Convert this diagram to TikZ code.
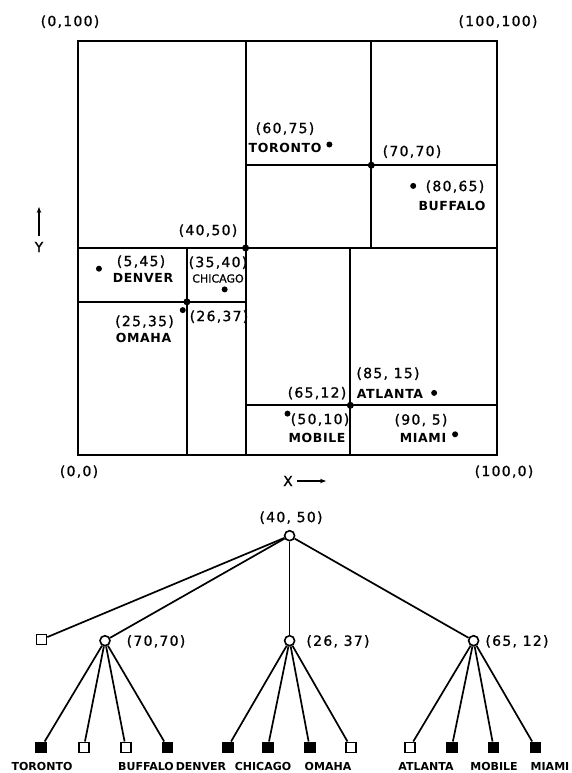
\documentclass[tikz,border=0pt]{standalone}
\usepackage{fontspec}
\usetikzlibrary{arrows.meta}
\newfontfamily\cfont[LetterSpace=9,FakeBold=1]{DejaVu Sans}
\newfontfamily\nfont[LetterSpace=5]{DejaVu Sans}
\newfontfamily\sfont[FakeBold=1]{DejaVu Sans}
\newfontfamily\lfont{DejaVu Sans}
\begin{document}
\begin{tikzpicture}[x=1pt,y=-1pt,
  txt/.style={inner sep=0pt, text depth=0pt},
  crd/.style={txt, font=\cfont\fontsize{14}{16}\selectfont, text height=10.2pt},
  nm/.style={txt, font=\nfont\bfseries\fontsize{12.5}{14}\selectfont, text height=9.1pt},
  sm/.style={txt, font=\sfont\fontsize{11}{13}\selectfont, text height=8pt},
  lf/.style={txt, font=\lfont\bfseries\fontsize{11}{13}\selectfont, text height=8pt},
  grid/.style={line width=2.2pt},
  dot/.style={circle, fill, inner sep=0pt, minimum size=6pt},
  idot/.style={circle, fill, inner sep=0pt, minimum size=7pt},
  inode/.style={circle, draw, line width=1.6pt, fill=white, inner sep=0pt, minimum size=10pt},
  osq/.style={rectangle, draw, line width=1.6pt, fill=white, inner sep=0pt, minimum size=10pt},
  fsq/.style={rectangle, draw, fill, line width=1.6pt, inner sep=0pt, minimum size=10pt},
  edge/.style={line width=1.7pt},
  axarrow/.style={line width=1.4pt, -{Stealth[length=6pt,width=4.5pt]}}]
\useasboundingbox (0,0) rectangle (571,773);

% ---------- partition map ----------
\begin{scope}[shift={(78,455)}, x=4.19pt, y=4.14pt]
  \draw[grid] (0,0) rectangle (100,100);
  \draw[grid] (40,0) -- (40,100);
  \draw[grid] (0,50) -- (100,50);
  \draw[grid] (70,50) -- (70,100);
  \draw[grid] (40,70) -- (100,70);
  \draw[grid] (26,0) -- (26,50);
  \draw[grid] (0,37) -- (40,37);
  \draw[grid] (65,0) -- (65,50);
  \draw[grid] (40,12) -- (100,12);
  \node[idot] (i4050) at (40,50) {};
  \node[idot] (i7070) at (70,70) {};
  \node[idot] (i2637) at (26,37) {};
  \node[idot] (i6512) at (65,12) {};
  \node[dot] (dtor) at (60,75) {};
  \node[dot] (dbuf) at (80,65) {};
  \node[dot] (dden) at (5,45) {};
  \node[dot] (dchi) at (35,40) {};
  \node[dot] (doma) at (25,35) {};
  \node[dot] (datl) at (85,15) {};
  \node[dot] (dmob) at (50,10) {};
  \node[dot] (dmia) at (90,5) {};
\end{scope}

% corner labels
\node[crd] (c0100) at (70,21) {(0,100)};
\node[crd] (c100100) at (498,21) {(100,100)};
\node[crd] (c00) at (79,471) {(0,0)};
\node[crd] (c1000) at (504,471) {(100,0)};

% axes
\node[crd] (xl) at (288,481) {X};
\coordinate (xa0) at (297,481);
\coordinate (xa1) at (326,481);
\draw[axarrow] (xa0) -- (xa1);
\node[crd] (yl) at (39,247) {Y};
\coordinate (ya0) at (39,236);
\coordinate (ya1) at (39,207);
\draw[axarrow] (ya0) -- (ya1);

% map labels
\node[crd] (l6075) at (285,128) {(60,75)};
\node[nm]  (ltor) at (285,148) {TORONTO};
\node[crd] (l7070) at (412,151) {(70,70)};
\node[crd] (l8065) at (455,186) {(80,65)};
\node[nm]  (lbuf) at (452,206) {BUFFALO};
\node[crd] (l4050) at (208,230) {(40,50)};
\node[crd] (l545) at (141,261) {(5,45)};
\node[nm]  (lden) at (143,278) {DENVER};
\node[crd] (l3540) at (218,262) {(35,40)};
\node[sm]  (lchi) at (218,278.5) {CHICAGO};
\node[crd] (l2535) at (144.5,321) {(25,35)};
\node[nm]  (loma) at (143.5,338) {OMAHA};
\node[crd] (l2637) at (219,316) {(26,37)};
\node[crd] (l8515) at (388,373) {(85, 15)};
\node[crd] (l6512) at (317,392.5) {(65,12)};
\node[nm]  (latl) at (390,393.5) {ATLANTA};
\node[crd] (l5010) at (320,419) {(50,10)};
\node[nm]  (lmob) at (317,438) {MOBILE};
\node[crd] (l905) at (421,419.5) {(90, 5)};
\node[nm]  (lmia) at (423,438) {MIAMI};

% ---------- tree ----------
\node[inode] (r) at (289.6,535.7) {};
\node[crd] (tr) at (291,517) {(40, 50)};
\node[osq] (q0) at (41.5,639.5) {};
\node[inode] (a) at (105,640.7) {};
\node[inode] (b) at (289.6,640.7) {};
\node[inode] (c) at (473.6,640.7) {};
\node[crd] (ta) at (156,640.7) {(70,70)};
\node[crd] (tb) at (338,640.7) {(26, 37)};
\node[crd] (tc) at (517,640.7) {(65, 12)};

\node[fsq] (f1) at (41.2,747.3) {};
\node[osq] (f2) at (83.8,747.3) {};
\node[osq] (f3) at (125.7,747.3) {};
\node[fsq] (f4) at (167.6,747.3) {};
\node[fsq] (f5) at (227.7,747.3) {};
\node[fsq] (f6) at (267.8,747.3) {};
\node[fsq] (f7) at (309.7,747.3) {};
\node[osq] (f8) at (350.8,747.3) {};
\node[osq] (f9) at (409.8,747.3) {};
\node[fsq] (f10) at (451.7,747.3) {};
\node[fsq] (f11) at (493.6,747.3) {};
\node[fsq] (f12) at (535.5,747.3) {};

\draw[edge] (r) -- (q0);
\draw[edge] (r) -- (a);
\draw[edge] (r) -- (b);
\draw[edge] (r) -- (c);
\foreach \n in {f1,f2,f3,f4} \draw[edge] (a) -- (\n);
\foreach \n in {f5,f6,f7,f8} \draw[edge] (b) -- (\n);
\foreach \n in {f9,f10,f11,f12} \draw[edge] (c) -- (\n);

\node[lf] (tt1) at (42,766.7) {TORONTO};
\node[lf] (tt4) at (146,766.7) {BUFFALO};
\node[lf] (tt5) at (201,766.7) {DENVER};
\node[lf] (tt6) at (263,766.7) {CHICAGO};
\node[lf] (tt7) at (328,766.7) {OMAHA};
\node[lf] (tt9) at (426,766.7) {ATLANTA};
\node[lf] (tt10) at (494,766.7) {MOBILE};
\node[lf] (tt12) at (550,766.7) {MIAMI};
\end{tikzpicture}
\end{document}
